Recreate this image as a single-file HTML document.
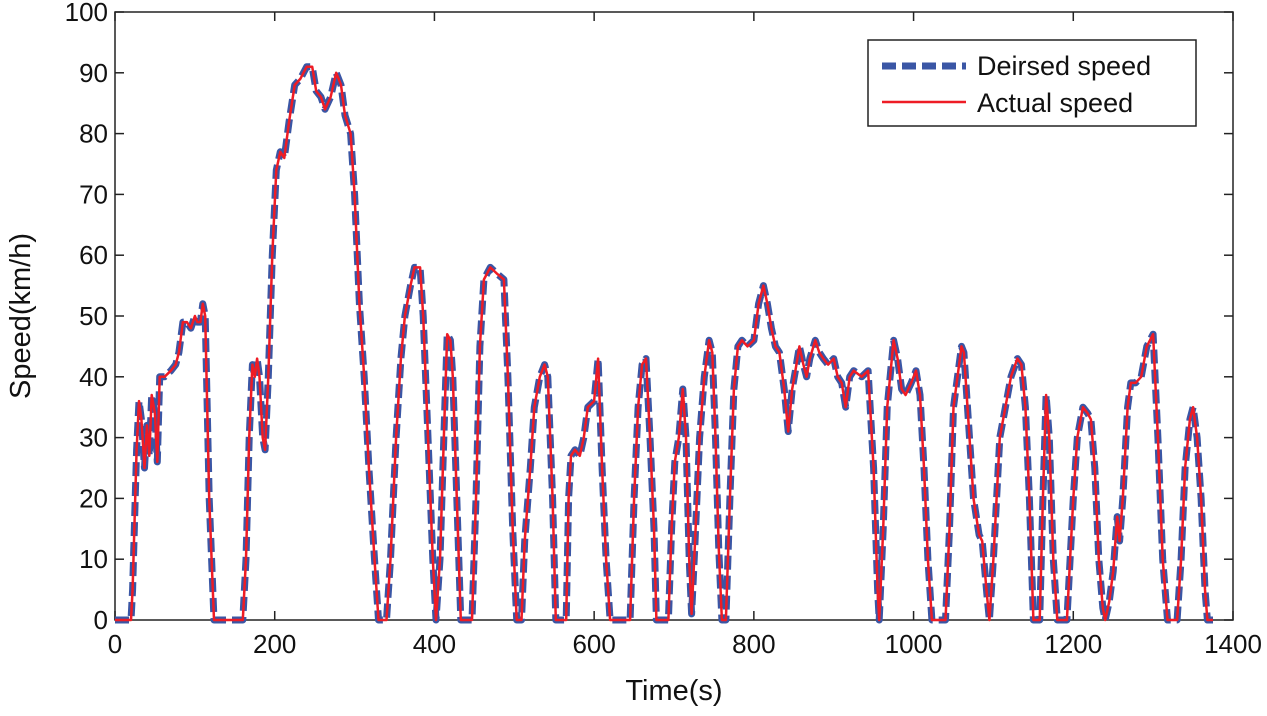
<!DOCTYPE html>
<html><head><meta charset="utf-8"><style>
body{margin:0;background:#fff}
svg text{font-family:"Liberation Sans",sans-serif;fill:#111}
</style></head><body>
<svg id="chart" width="1267" height="711" viewBox="0 0 1267 711" xmlns="http://www.w3.org/2000/svg">
<g id="axes"></g>
<g id="series"></g>
<g id="legend">
<rect x="868" y="40" width="328" height="86" fill="#fff" stroke="#222" stroke-width="1.5"/>
<line x1="882" y1="66" x2="966" y2="66" stroke="#3a56a5" stroke-width="7" stroke-dasharray="14,6"/>
<text x="977" y="75" font-size="27">Deirsed speed</text>
<line x1="882" y1="102" x2="966" y2="102" stroke="#ee1c25" stroke-width="2.5"/>
<text x="977" y="112" font-size="27">Actual speed</text>
</g>
</svg>
<script>
const xTicks=[0,200,400,600,800,1000,1200,1400];
const yTicks=[0,10,20,30,40,50,60,70,80,90,100];
const times=[0,20,22,27,30,33,37,40,43,46,50,53,56,62,70,76,80,85,90,95,100,103,107,110,113,118,124,160,164,168,172,175,178,181,185,188,192,197,202,207,212,218,225,232,240,247,252,258,263,270,277,283,288,295,300,306,312,318,325,330,340,345,352,358,363,370,375,382,386,392,398,402,407,413,416,420,423,428,433,447,452,457,462,470,478,487,492,498,503,509,513,520,525,532,538,542,548,552,565,568,571,576,582,587,592,600,605,610,615,620,645,650,655,660,665,670,675,678,693,697,701,706,711,715,719,722,726,732,738,744,748,752,756,760,765,770,775,780,785,792,800,806,812,817,822,827,832,838,843,848,852,857,862,866,870,877,882,887,893,900,905,910,915,920,925,935,943,950,955,957,962,967,975,980,985,990,997,1003,1008,1013,1018,1023,1040,1045,1050,1060,1063,1070,1075,1082,1086,1092,1095,1100,1108,1115,1122,1130,1135,1140,1145,1150,1158,1162,1166,1170,1175,1180,1192,1196,1200,1205,1212,1218,1222,1227,1232,1237,1240,1245,1250,1255,1258,1262,1268,1272,1278,1285,1292,1300,1306,1312,1318,1330,1335,1340,1346,1350,1355,1360,1365,1368,1375];
const desiredSpeed=[0,0,5,28,36,33,25,32,27,37,34,26,40,40,41,42,44,49,49,48,50,49,49,52,50,20,0,0,10,30,42,40,43,40,30,28,40,60,74,77,76,82,88,89,91,91,87,86,84,86,90,88,83,80,70,52,40,25,10,0,0,10,30,43,50,55,58,58,50,30,10,0,10,35,47,46,40,20,0,0,20,45,56,58,57,56,40,15,0,0,13,25,35,40,42,40,20,0,0,20,27,28,27,30,35,36,43,25,10,0,0,20,35,42,43,30,15,0,0,15,26,30,38,30,10,1,12,30,40,46,44,30,12,0,0,20,38,45,46,45,46,52,55,52,48,45,44,38,31,38,41,45,42,40,43,46,44,43,42,43,40,39,35,40,41,40,41,25,5,0,15,35,46,43,38,37,39,41,37,25,10,0,0,15,35,45,44,30,20,14,13,4,0,10,30,35,40,43,42,35,20,0,0,20,37,30,10,0,0,10,20,30,35,34,33,25,10,2,0,3,8,17,13,20,35,39,39,40,45,47,30,10,0,0,10,25,33,35,30,20,5,0,0];
const actualSpeed=desiredSpeed.slice();
const L=115,R=1233,T=12,B=620;
const xs=v=>L+(v/1400)*(R-L);
const ys=v=>B-(v/100)*(B-T);
const NS="http://www.w3.org/2000/svg";
const axes=document.getElementById('axes'), series=document.getElementById('series');
function mk(tag,attrs,parent){const e=document.createElementNS(NS,tag);for(const k in attrs)e.setAttribute(k,attrs[k]);parent.appendChild(e);return e;}
const frame=mk('rect',{x:L,y:T,width:R-L,height:B-T,fill:'none',stroke:'#222','stroke-width':1.5},axes);


xTicks.forEach(t=>{
 const x=xs(t);
 const l1=mk('line',{x1:x,y1:B,x2:x,y2:B-9,stroke:'#222','stroke-width':1.5},axes);
 
 
 const l2=mk('line',{x1:x,y1:T,x2:x,y2:T+9,stroke:'#222','stroke-width':1.5},axes);
 
 
 const tx=mk('text',{x:x,y:B+33,'font-size':26,'text-anchor':'middle'},axes);tx.textContent=t;
 
 
});
yTicks.forEach(t=>{
 const y=ys(t);
 const l1=mk('line',{x1:L,y1:y,x2:L+9,y2:y,stroke:'#222','stroke-width':1.5},axes);
 
 
 const l2=mk('line',{x1:R,y1:y,x2:R-9,y2:y,stroke:'#222','stroke-width':1.5},axes);
 
 
 const tx=mk('text',{x:L-7,y:y+9,'font-size':26,'text-anchor':'end'},axes);tx.textContent=t;
 
 
});
const xt=mk('text',{x:(L+R)/2,y:700,'font-size':29,'text-anchor':'middle'},axes);xt.textContent='Time(s)';


const yt=mk('text',{x:0,y:0,'font-size':29,'text-anchor':'middle',transform:'translate(30,316) rotate(-90)'},axes);yt.textContent='Speed(km/h)';


function pts(arr){return times.map((t,i)=>xs(t).toFixed(1)+','+ys(arr[i]).toFixed(1)).join(' ');}
const d=mk('polyline',{points:pts(desiredSpeed),fill:'none',stroke:'#3a56a5','stroke-width':7,'stroke-dasharray':'14,6','stroke-linejoin':'round'},series);


const a=mk('polyline',{points:pts(actualSpeed),fill:'none',stroke:'#ee1c25','stroke-width':2.5,'stroke-linejoin':'round'},series);


</script>
</body></html>
